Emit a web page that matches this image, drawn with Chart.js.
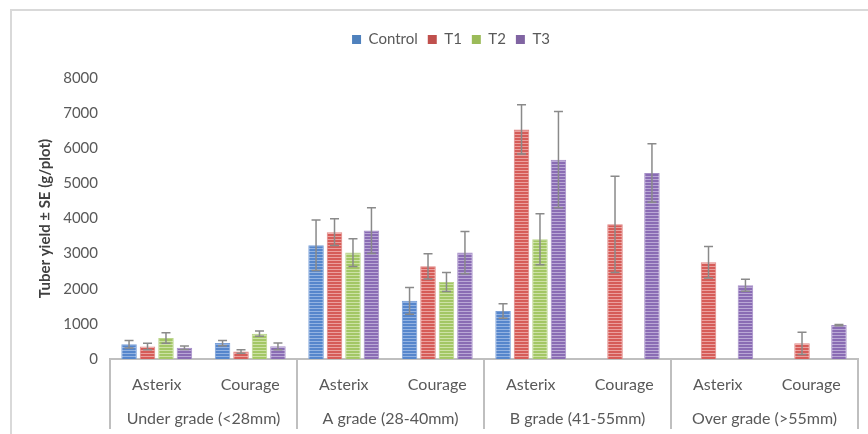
<!DOCTYPE html>
<html>
<head>
<meta charset="utf-8">
<title>Tuber yield by grade</title>
<script src="https://cdn.jsdelivr.net/npm/chart.js@4.4.1/dist/chart.umd.min.js"></script>
<style>
  html, body { margin: 0; padding: 0; background: #ffffff; }
  #wrap { width: 868px; height: 434px; position: relative; }
</style>
</head>
<body>
<div id="wrap"><canvas id="chart" width="868" height="434"></canvas></div>
<script>
// Varieties inside each size grade
const varieties = ['Asterix', 'Courage', 'Asterix', 'Courage', 'Asterix', 'Courage', 'Asterix', 'Courage'];
// Size grades (outer axis level)
const grades = ['Under grade (<28mm)', 'A grade (28-40mm)', 'B grade (41-55mm)', 'Over grade (>55mm)'];
const yTicks = [0, 1000, 2000, 3000, 4000, 5000, 6000, 7000, 8000];

// Mean tuber yield (g/plot)
const control = [420, 455, 3240, 1655, 1365, null, null, null];
const t1      = [355, 215, 3610, 2640, 6535, 3835, 2755, 445];
const t2      = [600, 720, 3030, 2195, 3410, null, null, null];
const t3      = [320, 360, 3655, 3030, 5675, 5295, 2100, 965];

// Standard errors
const controlSE = [110, 75, 720, 380, 205, null, null, null];
const t1SE      = [90, 50, 380, 360, 700, 1370, 450, 320];
const t2SE      = [150, 75, 395, 270, 725, null, null, null];
const t3SE      = [50, 95, 650, 600, 1370, 830, 170, 20];

const seriesNames = ['Control', 'T1', 'T2', 'T3'];

// Horizontal-line fill used for the bars
function stripes(base, line) {
  const c = document.createElement('canvas');
  c.width = 4; c.height = 3;
  const g = c.getContext('2d');
  g.fillStyle = base; g.fillRect(0, 0, 4, 3);
  g.fillStyle = line; g.fillRect(0, 2, 4, 1);
  return g.createPattern(c, 'repeat');
}

const palette = [
  { base: '#5686cc', line: '#93b3e2', edge: '#7aa0d8', key: '#4f81bd' },
  { base: '#d65c58', line: '#eba09e', edge: '#e08482', key: '#c0504d' },
  { base: '#a3c765', line: '#cde2a6', edge: '#bcd68d', key: '#9bbb59' },
  { base: '#8a6cb4', line: '#baa8d6', edge: '#a690c8', key: '#8064a2' }
];

const values = [control, t1, t2, t3];
const errors = [controlSE, t1SE, t2SE, t3SE];

const textColor = '#595959';
const fontFamily = 'Lato, "Open Sans", "Liberation Sans", sans-serif';

// Error bars drawn from each bar's value and its SE
const errorBarPlugin = {
  id: 'errorBars',
  afterDatasetsDraw(chart) {
    const ctx = chart.ctx;
    const y = chart.scales.y;
    ctx.save();
    ctx.strokeStyle = '#8a8a8a';
    ctx.lineWidth = 1.5;
    chart.data.datasets.forEach((ds, di) => {
      const meta = chart.getDatasetMeta(di);
      meta.data.forEach((bar, i) => {
        const v = ds.data[i];
        const se = ds.errors[i];
        if (v == null || se == null) return;
        const x = bar.x;
        const top = y.getPixelForValue(v + se);
        const bot = y.getPixelForValue(Math.max(0, v - se));
        const cap = 4.5;
        ctx.beginPath();
        ctx.moveTo(x, top); ctx.lineTo(x, bot);
        ctx.moveTo(x - cap, top); ctx.lineTo(x + cap, top);
        ctx.moveTo(x - cap, bot); ctx.lineTo(x + cap, bot);
        ctx.stroke();
      });
    });
    ctx.restore();
  }
};

// Legend sits higher than the top padding, a little right of centre
const legendPlacePlugin = {
  id: 'legendPlace',
  afterLayout(chart) {
    const lg = chart.legend;
    if (!lg) return;
    lg.top -= 21; lg.bottom -= 21;
    lg.left += 22; lg.right += 22;
  }
};

// Outer frame plus the separators between size grades on the category axis
const framePlugin = {
  id: 'frame',
  beforeDraw(chart) {
    const ctx = chart.ctx;
    ctx.save();
    ctx.fillStyle = '#ffffff';
    ctx.fillRect(0, 0, chart.width, chart.height);
    ctx.strokeStyle = '#d9d9d9';
    ctx.lineWidth = 2;
    ctx.beginPath();
    ctx.moveTo(11, chart.height);
    ctx.lineTo(11, 10);
    ctx.lineTo(chart.width, 10);
    ctx.stroke();
    ctx.restore();
  },
  afterDraw(chart) {
    const ctx = chart.ctx;
    const outer = chart.scales.x2;
    const inner = chart.scales.x;
    const step = outer.width / grades.length;
    ctx.save();
    ctx.strokeStyle = '#bfbfbf';
    ctx.lineWidth = 2;
    ctx.beginPath();
    for (let i = 0; i <= grades.length; i++) {
      const px = Math.round(outer.left + i * step);
      ctx.moveTo(px, inner.top);
      ctx.lineTo(px, outer.bottom - 5);
    }
    ctx.stroke();
    ctx.restore();
  }
};

new Chart(document.getElementById('chart'), {
  type: 'bar',
  data: {
    labels: varieties,
    datasets: seriesNames.map((name, i) => ({
      label: name,
      data: values[i],
      errors: errors[i],
      backgroundColor: stripes(palette[i].base, palette[i].line),
      borderColor: palette[i].edge,
      borderWidth: 1,
      categoryPercentage: 0.79,
      barPercentage: 0.84
    }))
  },
  options: {
    responsive: false,
    animation: false,
    devicePixelRatio: 1,
    layout: { padding: { left: 0, right: 10, top: 43, bottom: 0 } },
    plugins: {
      legend: {
        position: 'top',
        labels: {
          boxWidth: 9,
          boxHeight: 9,
          padding: 10,
          color: textColor,
          font: { family: fontFamily, size: 15 },
          generateLabels(chart) {
            return chart.data.datasets.map((ds, i) => ({
              text: ds.label,
              fillStyle: palette[i].key,
              strokeStyle: palette[i].key,
              lineWidth: 0,
              fontColor: textColor,
              datasetIndex: i,
              hidden: false
            }));
          }
        }
      },
      tooltip: { enabled: false }
    },
    scales: {
      x: {
        position: 'bottom',
        grid: { display: false },
        border: { display: true, color: '#bfbfbf', width: 2 },
        ticks: { color: textColor, font: { family: fontFamily, size: 16 }, padding: 8, maxRotation: 0 },
        afterFit(s) { s.height = 40; }
      },
      x2: {
        type: 'category',
        position: 'bottom',
        labels: grades,
        offset: true,
        grid: { display: false },
        border: { display: false },
        ticks: { color: textColor, font: { family: fontFamily, size: 16 }, padding: 2, maxRotation: 0 },
        afterFit(s) { s.height = 35; }
      },
      y: {
        min: 0,
        max: 8000,
        afterBuildTicks(s) { s.ticks = yTicks.map(v => ({ value: v })); },
        grid: { display: false, drawTicks: false },
        border: { display: false },
        ticks: {
          color: textColor,
          font: { family: fontFamily, size: 15 },
          padding: 12,
          callback: (v) => String(v)
        },
        title: {
          display: true,
          text: 'Tuber yield ± SE (g/plot)',
          color: '#404040',
          font: { family: fontFamily, size: 15, weight: 'bold' },
          padding: { top: 36, bottom: 0 }
        },
        afterFit(s) { s.width = 110; }
      }
    }
  },
  plugins: [framePlugin, legendPlacePlugin, errorBarPlugin]
});
</script>
</body>
</html>
